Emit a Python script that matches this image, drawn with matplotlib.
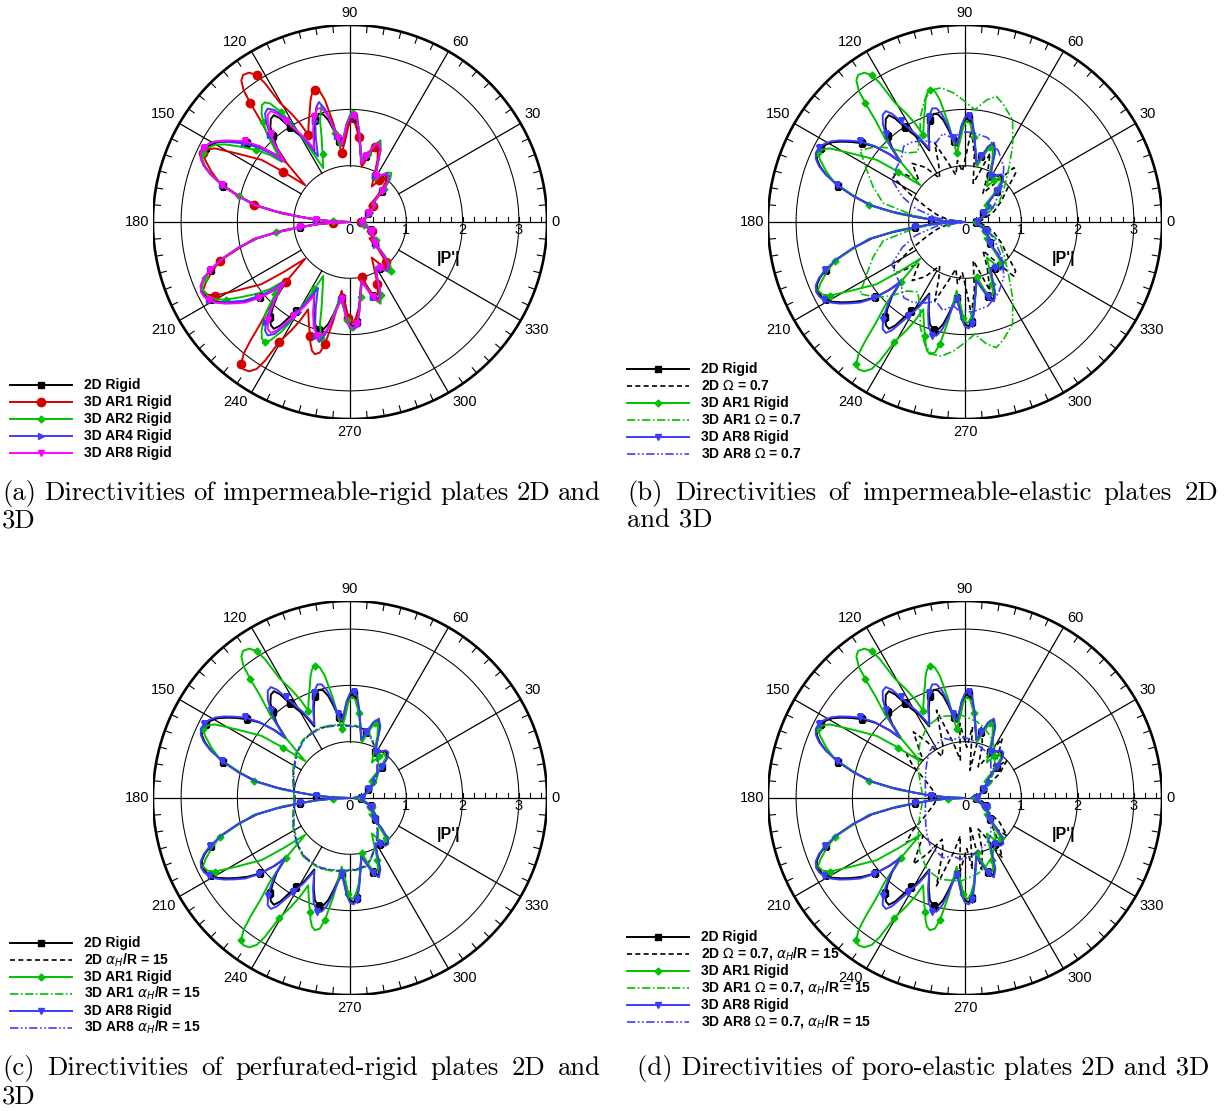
import numpy as np
import matplotlib
matplotlib.use("Agg")
import matplotlib.pyplot as plt

plt.rcParams['font.family'] = ['Liberation Sans', 'DejaVu Sans']
plt.rcParams['mathtext.fontset'] = 'dejavusans'

W, H = 1228, 1111
RMAX = 3.5
PX = 56.3            # pixels per unit of |P'|
RPX = RMAX * PX

# ---------------- directivity data: (theta in degrees, |P'|), upper half ----------------
rigid_2d = [(0, 0.2), (6, 0.18), (12, 0.22), (18, 0.33), (22, 0.4), (26, 0.35), (30, 0.45), (34, 0.52),
            (38, 0.48), (41, 0.58), (44, 0.78), (47, 0.95), (50, 1.03), (53, 1.04), (57, 0.98), (61, 0.93),
            (64, 1.08), (67, 1.35), (70, 1.47), (73, 1.38), (76, 1.2), (79, 1.05), (82, 1.3), (84, 1.55),
            (86, 1.78), (88, 1.85), (90, 1.82), (92, 1.7), (94, 1.5), (96, 1.36), (98, 1.45), (100, 1.65),
            (102, 1.85), (104, 1.97), (106, 2.0), (109, 1.92), (112, 1.72), (116.5, 1.42), (118.7, 1.68),
            (121, 1.85), (122.5, 2.0), (124, 2.22), (125.5, 2.33), (127.5, 2.31), (130, 2.2), (132, 2.05),
            (134.5, 1.85), (137, 1.55), (138, 1.8), (140, 2.08), (142.5, 2.3), (145, 2.48), (147, 2.62),
            (149, 2.75), (151, 2.83), (153, 2.88), (155, 2.89), (157, 2.86), (159, 2.76), (161, 2.62),
            (164, 2.34), (167, 2.02), (170, 1.68), (172, 1.3), (174, 0.89), (176, 0.6), (178, 0.3), (180, 0.0)]

ar1_rigid = [(0, 0.2), (8, 0.22), (15, 0.3), (22, 0.42), (28, 0.35), (34, 0.5), (40, 0.45), (44, 0.7),
             (48, 0.95), (52, 1.0), (55, 0.9), (58.5, 0.74), (62, 0.9), (66, 1.2), (69, 1.38), (71.5, 1.4),
             (74, 1.25), (76.5, 1.08), (78, 1.0), (81, 1.25), (84, 1.52), (87, 1.75), (89, 1.8), (91, 1.7),
             (93.6, 1.43), (96.9, 1.23), (98.5, 1.5), (99.6, 1.78), (101.6, 2.21), (103, 2.38), (104.9, 2.43),
             (106.5, 2.38), (108, 2.27), (109.4, 2.14), (112, 1.95), (115.6, 1.72), (116.9, 1.97),
             (118.5, 2.2), (120.5, 2.47), (121.5, 2.89), (122.4, 3.09), (124, 3.2), (126, 3.23),
             (127.5, 3.17), (128.9, 3.01), (130, 2.75), (131.4, 2.4), (133.7, 2.06), (137, 1.55),
             (140.6, 1.03), (143, 1.48), (144.9, 1.92), (148.8, 2.35), (151.4, 2.73), (153, 2.84),
             (155, 2.88), (156.8, 2.8), (160, 2.62), (163.4, 2.41), (166, 2.1), (170, 1.74), (173, 1.2),
             (176, 0.6), (178, 0.3), (180, 0.0)]

ar2_rigid = [(0, 0.22), (6, 0.2), (12, 0.25), (18, 0.36), (22, 0.44), (26, 0.38), (30, 0.48), (34, 0.56),
             (38, 0.5), (41, 0.62), (44, 0.85), (47, 1.05), (50, 1.14), (53, 1.1), (57, 0.98), (61, 0.92),
             (64, 1.1), (67, 1.4), (69.5, 1.55), (72, 1.45), (75, 1.25), (79, 1.1), (82, 1.35), (84, 1.6),
             (86, 1.85), (88.3, 1.93), (90, 1.9), (92, 1.75), (94, 1.55), (97.6, 1.35), (99.5, 1.6),
             (101.5, 1.92), (103.8, 2.13), (106.4, 1.89), (108.4, 1.6), (112, 1.3), (116.4, 1.07),
             (118, 1.35), (119, 1.6), (120.5, 2.0), (122, 2.3), (124, 2.54), (125.5, 2.61), (127, 2.6),
             (129.1, 2.49), (131, 2.35), (133.2, 2.16), (136, 1.85), (138.6, 1.62), (140, 1.85),
             (142.5, 2.1), (145.6, 2.37), (148, 2.6), (150, 2.75), (152.5, 2.85), (155, 2.88), (157, 2.85),
             (159, 2.76), (161, 2.62), (164, 2.35), (167, 2.03), (170, 1.7), (172, 1.32), (174, 0.9),
             (176, 0.6), (178, 0.3), (180, 0.0)]

ar4_rigid = [(0, 0.22), (6, 0.2), (12, 0.24), (18, 0.35), (22, 0.43), (26, 0.37), (30, 0.47), (34, 0.55),
             (38, 0.5), (41, 0.61), (44, 0.82), (47, 1.0), (50, 1.08), (53, 1.08), (57, 0.98), (61, 0.93),
             (64, 1.1), (67, 1.38), (70, 1.5), (73, 1.4), (76, 1.2), (79, 1.07), (82, 1.33), (84, 1.58),
             (86, 1.83), (88, 1.9), (90, 1.87), (92, 1.73), (94, 1.53), (96.5, 1.37), (98.5, 1.55),
             (100.5, 1.8), (102.5, 2.05), (104.5, 2.2), (106.5, 2.12), (109, 1.9), (112, 1.62), (116, 1.3),
             (118, 1.55), (120, 1.85), (122, 2.15), (124, 2.4), (126, 2.49), (128, 2.45), (130, 2.32),
             (132.5, 2.1), (135, 1.85), (137.8, 1.6), (139, 1.85), (141, 2.1), (143.5, 2.35), (145.6, 2.5),
             (147.5, 2.65), (149.3, 2.8), (151, 2.87), (153, 2.91), (155, 2.92), (157, 2.88), (159, 2.78),
             (161, 2.63), (164, 2.36), (167, 2.04), (170, 1.7), (172, 1.32), (174, 0.9), (176, 0.6),
             (178, 0.3), (180, 0.0)]

ar8_rigid = [(0, 0.22), (6, 0.2), (12, 0.24), (18, 0.35), (22, 0.42), (26, 0.36), (30, 0.46), (34, 0.54),
             (38, 0.5), (41, 0.6), (44, 0.8), (47, 0.98), (50, 1.06), (53, 1.06), (57, 0.98), (61, 0.94),
             (64, 1.1), (67, 1.38), (70, 1.5), (73, 1.4), (76, 1.2), (79, 1.06), (82, 1.32), (84, 1.58),
             (86, 1.82), (88, 1.89), (90, 1.86), (92, 1.72), (94, 1.52), (96, 1.38), (98, 1.5), (100, 1.72),
             (102, 1.95), (104, 2.08), (106, 2.1), (109, 1.98), (112, 1.75), (116, 1.45), (118.5, 1.72),
             (121, 1.95), (122.5, 2.12), (124, 2.32), (125.5, 2.42), (127.5, 2.4), (130, 2.27), (132, 2.1),
             (134.5, 1.88), (137.3, 1.58), (138.3, 1.82), (140, 2.1), (142.5, 2.35), (145, 2.52),
             (147, 2.66), (149, 2.78), (151, 2.86), (153, 2.91), (155, 2.92), (157, 2.88), (159, 2.78),
             (161, 2.63), (164, 2.36), (167, 2.04), (170, 1.7), (172, 1.32), (174, 0.9), (176, 0.6),
             (178, 0.3), (180, 0.0)]

elastic_2d = [(0, 0.25), (10, 0.35), (20, 0.55), (30, 0.75), (38, 0.95), (44, 1.25), (48, 1.3), (52, 0.9),
              (58, 0.6), (64, 0.9), (70, 1.3), (74, 0.9), (78, 0.7), (82, 1.2), (86, 1.65), (89, 1.2),
              (93, 0.9), (97, 1.1), (101, 0.85), (106, 1.1), (111, 1.5), (115, 1.1), (120, 0.9), (126, 1.2),
              (132, 1.4), (138, 1.1), (143, 1.5), (148, 1.5), (153, 1.1), (160, 0.7), (166, 0.5),
              (172, 0.3), (180, 0.0)]

elastic_ar1 = [(0, 0.2), (15, 0.35), (30, 0.7), (40, 0.9), (50, 1.2), (58, 1.6), (65, 2.0), (72, 2.2),
               (76, 2.3), (80, 2.2), (85, 2.0), (90, 2.14), (95, 2.3), (100, 2.42), (104, 2.42), (108, 2.3),
               (113, 2.03), (118, 1.7), (124, 1.5), (130, 1.6), (135, 1.85), (139.5, 2.06), (145.6, 2.26),
               (152, 1.98), (159, 1.75), (167, 1.49), (173, 0.9), (177, 0.4), (180, 0.0)]

elastic_ar8 = [(0, 0.2), (15, 0.35), (30, 0.6), (45, 0.95), (55, 1.2), (65, 1.4), (75, 1.55), (85, 1.6),
               (93, 1.6), (98, 1.5), (104, 1.62), (110, 1.5), (116, 1.6), (123, 1.7), (129, 1.73),
               (135, 1.6), (142, 1.55), (150, 1.5), (158, 1.2), (165, 0.9), (172, 0.5), (180, 0.0)]

porous_2d = [(0, 0.05), (10, 0.2), (20, 0.35), (30, 0.5), (40, 0.63), (50, 0.76), (55, 0.85), (64, 1.0),
             (70, 1.12), (76, 1.24), (85, 1.28), (98, 1.31), (106, 1.33), (113, 1.35), (121, 1.34),
             (129, 1.32), (140, 1.24), (154, 1.12), (165, 1.04), (173, 1.0), (180, 0.98)]

porous_ar1 = [(0, 0.05), (10, 0.2), (20, 0.36), (30, 0.52), (40, 0.65), (50, 0.78), (55, 0.87), (64, 1.02),
              (70, 1.13), (76, 1.25), (85, 1.29), (98, 1.32), (106, 1.34), (113, 1.36), (121, 1.35),
              (129, 1.33), (140, 1.25), (154, 1.13), (165, 1.05), (173, 1.01), (180, 0.99)]

porous_ar8 = [(0, 0.05), (10, 0.19), (20, 0.34), (30, 0.49), (40, 0.62), (50, 0.75), (55, 0.84), (64, 0.99),
              (70, 1.11), (76, 1.23), (85, 1.27), (98, 1.3), (106, 1.32), (113, 1.34), (121, 1.33),
              (129, 1.31), (140, 1.23), (154, 1.11), (165, 1.03), (173, 0.99), (180, 0.97)]

poroel_2d = [(0, 0.2), (10, 0.3), (20, 0.45), (28, 0.4), (35, 0.75), (42, 1.0), (46, 0.7), (52, 0.95),
             (58, 1.25), (62, 0.8), (67, 0.6), (72, 1.0), (77, 1.3), (80, 0.5), (84, 1.27), (88, 0.9),
             (94, 1.33), (97, 0.68), (102, 1.0), (108, 1.64), (113, 1.0), (119, 0.84), (124, 1.2),
             (128, 1.49), (133, 1.2), (138, 1.0), (143, 1.3), (148, 1.1), (155, 0.8), (162, 0.65),
             (170, 0.55), (180, 0.5)]

poroel_ar1 = [(0, 0.1), (20, 0.35), (40, 0.65), (55, 0.95), (65, 1.15), (75, 1.3), (81, 1.37), (93, 1.48),
              (107, 1.51), (118, 1.44), (130, 1.25), (139.6, 1.09), (150, 0.95), (160, 0.85), (170, 0.78),
              (180, 0.75)]

poroel_ar8 = [(0, 0.1), (20, 0.3), (40, 0.6), (55, 0.8), (65, 0.9), (73.7, 0.95), (84, 1.05), (94.7, 1.09),
              (102, 1.05), (110, 1.13), (118, 1.08), (126, 1.05), (135, 0.95), (145, 0.85), (160, 0.75),
              (180, 0.7)]

radial_ticks = [0, 1, 2, 3]
angle_ticks = list(range(0, 360, 30))

# ---------------- styles ----------------
BLACK, RED, GREEN, BLUE, MAGENTA = 'black', '#d40000', '#00c000', '#3c3cff', '#ff00ff'
S_2D = dict(color=BLACK, lw=1.4, marker='s', ms=4)
S_AR1_A = dict(color=RED, lw=1.4, marker='o', ms=6)
S_AR2 = dict(color=GREEN, lw=1.4, marker='D', ms=3.5)
S_AR4 = dict(color=BLUE, lw=1.4, marker='>', ms=4.5)
S_AR8_A = dict(color=MAGENTA, lw=1.4, marker='v', ms=4.5)
S_AR1 = dict(color=GREEN, lw=1.4, marker='D', ms=3.5)
S_AR8 = dict(color=BLUE, lw=1.4, marker='v', ms=4.5)
D_2D = dict(color=BLACK, lw=1.2, ls=(0, (3, 2)))
D_AR1 = dict(color=GREEN, lw=1.2, ls=(0, (5, 1.5, 1, 1.5)))
D_AR8 = dict(color=BLUE, lw=1.2, ls=(0, (5, 1.5, 1, 1.5, 1, 1.5)))

fig = plt.figure(figsize=(W / 100, H / 100), dpi=100)


def full_curve(points):
    th = np.array([p[0] for p in points], float)
    r = np.array([p[1] for p in points], float)
    th_all = np.concatenate([th, 360.0 - th[::-1][1:]])
    r_all = np.concatenate([r, r[::-1][1:]])
    return np.deg2rad(th_all), r_all


def panel(cx, cy):
    rect = [(cx - RPX) / W, 1 - (cy + RPX) / H, 2 * RPX / W, 2 * RPX / H]
    axc = fig.add_axes(rect)
    axc.set_xlim(-RMAX, RMAX)
    axc.set_ylim(-RMAX, RMAX)
    axc.axis('off')
    t = np.linspace(0, 2 * np.pi, 721)
    for rr in (1, 2, 3):
        axc.plot(rr * np.cos(t), rr * np.sin(t), color='k', lw=0.75)
    axc.plot(RMAX * np.cos(t), RMAX * np.sin(t), color='k', lw=1.9)
    axc.plot([-RMAX, RMAX], [0, 0], color='k', lw=0.9)
    for a in angle_ticks:
        if a in (0, 180):
            continue
        ar = np.deg2rad(a)
        axc.plot([np.cos(ar), RMAX * np.cos(ar)], [np.sin(ar), RMAX * np.sin(ar)], color='k', lw=0.9)
    for a in range(5, 360, 5):
        if a % 30 == 0:
            continue
        ar = np.deg2rad(a)
        axc.plot([(RMAX - 0.12) * np.cos(ar), RMAX * np.cos(ar)],
                 [(RMAX - 0.12) * np.sin(ar), RMAX * np.sin(ar)], color='k', lw=0.8)
    for x in np.arange(0, 3.41, 0.2):
        axc.plot([x, x], [0, 0.09], color='k', lw=0.8)
    # angle labels sit just outside the end of each spoke
    for a in angle_ticks:
        ar = np.deg2rad(a)
        c, s = np.cos(ar), np.sin(ar)
        if abs(c) < 1e-6:
            ha, dx = 'center', 0
        else:
            ha, dx = ('left', 4) if c > 0 else ('right', -4)
        if abs(s) < 1e-6:
            va, dy = 'center', 0
        elif abs(c) < 1e-6:
            va, dy = ('bottom', 5) if s > 0 else ('top', -6)
        else:
            va, dy = ('bottom', 2) if s > 0 else ('top', -2)
        axc.annotate(str(a), (RMAX * c, RMAX * s), xytext=(dx, dy), textcoords='offset pixels',
                     ha=ha, va=va, fontsize=10.5)
    for v in radial_ticks:
        axc.text(v, -0.15, str(v), ha='center', va='center', fontsize=10.5)
    axc.text(1.75, -0.64, "|P'|", ha='center', va='center', fontsize=11.5, fontweight='bold')
    axp = fig.add_axes(rect, projection='polar')
    axp.set_ylim(0, RMAX)
    axp.axis('off')
    axp.patch.set_alpha(0)
    return axp


def curve(ax, points, style, every=5):
    th, r = full_curve(points)
    kw = dict(style)
    if 'marker' in kw:
        kw['markevery'] = every
    ax.plot(th, r, **kw)


# (a) impermeable-rigid
ax = panel(350, 222)
curve(ax, rigid_2d, S_2D)
curve(ax, ar1_rigid, S_AR1_A)
curve(ax, ar2_rigid, S_AR2)
curve(ax, ar4_rigid, S_AR4)
curve(ax, ar8_rigid, S_AR8_A)

# (b) impermeable-elastic
ax = panel(965, 222)
curve(ax, rigid_2d, S_2D)
curve(ax, elastic_2d, D_2D)
curve(ax, ar1_rigid, S_AR1)
curve(ax, elastic_ar1, D_AR1)
curve(ax, ar8_rigid, S_AR8)
curve(ax, elastic_ar8, D_AR8)

# (c) perforated-rigid
ax = panel(350, 798)
curve(ax, rigid_2d, S_2D)
curve(ax, porous_2d, D_2D)
curve(ax, ar1_rigid, S_AR1)
curve(ax, porous_ar1, D_AR1)
curve(ax, ar8_rigid, S_AR8)
curve(ax, porous_ar8, D_AR8)

# (d) poro-elastic
ax = panel(965, 798)
curve(ax, rigid_2d, S_2D)
curve(ax, poroel_2d, D_2D)
curve(ax, ar1_rigid, S_AR1)
curve(ax, poroel_ar1, D_AR1)
curve(ax, ar8_rigid, S_AR8)
curve(ax, poroel_ar8, D_AR8)

# ---------------- legends and captions (figure pixel coordinates) ----------------
axo = fig.add_axes([0, 0, 1, 1])
axo.set_xlim(0, W)
axo.set_ylim(H, 0)
axo.axis('off')


def legend(x0, y0, entries, dy=16.9):
    for i, (label, style) in enumerate(entries):
        y = y0 + i * dy
        kw = dict(style)
        if 'marker' in kw:
            kw['markevery'] = [1]
        axo.plot([x0, x0 + 31, x0 + 62], [y, y, y], **kw)
        axo.text(x0 + 74, y, label, fontsize=10, fontweight='bold', ha='left', va='center')


legend(10, 385, [("2D Rigid", S_2D), ("3D AR1 Rigid", S_AR1_A), ("3D AR2 Rigid", S_AR2),
                 ("3D AR4 Rigid", S_AR4), ("3D AR8 Rigid", S_AR8_A)])
legend(627, 369, [("2D Rigid", S_2D), (r"2D $\Omega$ = 0.7", D_2D), ("3D AR1 Rigid", S_AR1),
                  (r"3D AR1 $\Omega$ = 0.7", D_AR1), ("3D AR8 Rigid", S_AR8),
                  (r"3D AR8 $\Omega$ = 0.7", D_AR8)])
legend(10, 943, [("2D Rigid", S_2D), (r"2D $\alpha_H$/R = 15", D_2D), ("3D AR1 Rigid", S_AR1),
                 (r"3D AR1 $\alpha_H$/R = 15", D_AR1), ("3D AR8 Rigid", S_AR8),
                 (r"3D AR8 $\alpha_H$/R = 15", D_AR8)])
legend(627, 937, [("2D Rigid", S_2D), (r"2D $\Omega$ = 0.7, $\alpha_H$/R = 15", D_2D),
                  ("3D AR1 Rigid", S_AR1), (r"3D AR1 $\Omega$ = 0.7, $\alpha_H$/R = 15", D_AR1),
                  ("3D AR8 Rigid", S_AR8), (r"3D AR8 $\Omega$ = 0.7, $\alpha_H$/R = 15", D_AR8)])

CAP = dict(family='cmr10', fontsize=19.2)
renderer = fig.canvas.get_renderer()


def caption_line(text, x0, y, x1=None):
    words = text.split(' ')
    if x1 is None:
        axo.text(x0, y, text, ha='left', va='baseline', **CAP)
        return
    objs = [axo.text(0, y, w, ha='left', va='baseline', **CAP) for w in words]
    widths = [o.get_window_extent(renderer).width for o in objs]
    gap = (x1 - x0 - sum(widths)) / (len(words) - 1)
    x = x0
    for o, w in zip(objs, widths):
        o.set_x(x)
        x += w + gap


caption_line("(a) Directivities of impermeable-rigid plates 2D and", 2, 500, 601)
caption_line("3D", 2, 528)
caption_line("(b) Directivities of impermeable-elastic plates 2D", 627, 500, 1218)
caption_line("and 3D", 627, 528)
caption_line("(c) Directivities of perfurated-rigid plates 2D and", 2, 1075, 601)
caption_line("3D", 2, 1103)
caption_line("(d) Directivities of poro-elastic plates 2D and 3D", 637, 1075)

fig.savefig("out.png", dpi=100)
